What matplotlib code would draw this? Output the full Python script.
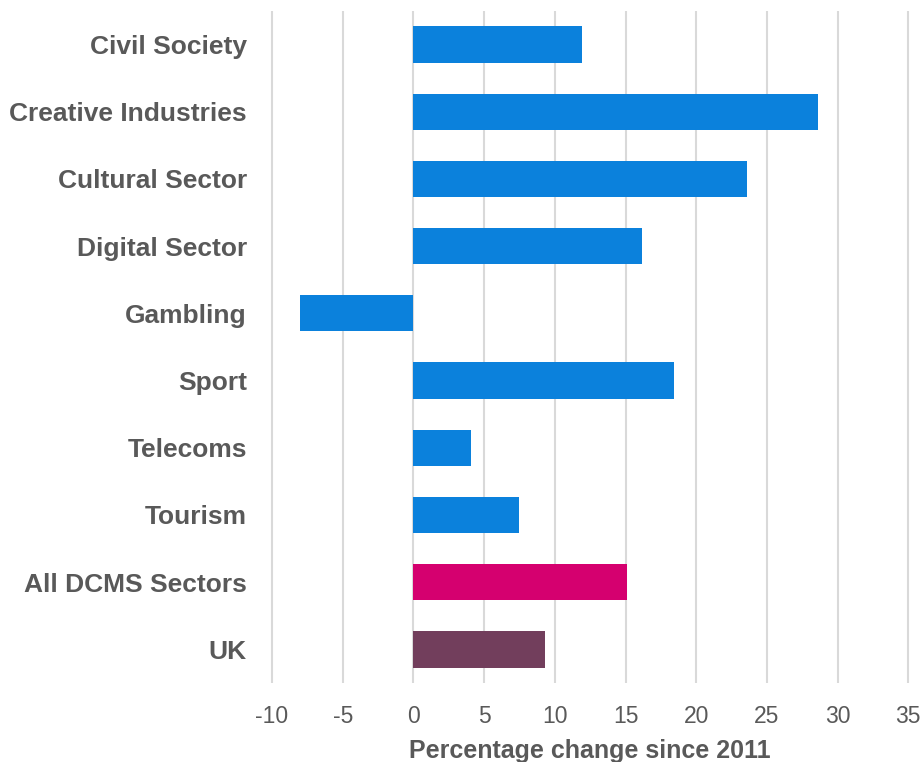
import matplotlib
matplotlib.use("Agg")
from matplotlib import pyplot as plt

# data
categories = ["Civil Society", "Creative Industries", "Cultural Sector", "Digital Sector",
              "Gambling", "Sport", "Telecoms", "Tourism", "All DCMS Sectors", "UK"]
values = [11.9, 28.6, 23.6, 16.2, -8.0, 18.4, 4.1, 7.5, 15.1, 9.3]
colours = ["#0b81dc"] * 8 + ["#d5006f", "#723e5c"]
xticks = [-10, -5, 0, 5, 10, 15, 20, 25, 30, 35]

plt.rcParams['font.family'] = ['Liberation Sans', 'DejaVu Sans']
grey = "#595959"

fig = plt.figure(figsize=(9.23, 7.62), dpi=100)
ax = fig.add_axes([0.2794, 0.1037, 0.72, 0.882])

ypos = list(range(len(categories)))
ax.barh(ypos, values, height=0.54, color=colours, zorder=3)

ax.set_ylim(len(categories) - 0.5, -0.5)
ax.set_xlim(-11, 36)
ax.set_xticks(xticks)
ax.set_xticklabels([str(t) for t in xticks])
ax.set_yticks(ypos)
ax.set_yticklabels(categories, fontsize=19, fontweight='bold', color=grey)

ax.grid(axis='x', color='#d9d9d9', linewidth=1.5, zorder=0)
for s in ax.spines.values():
    s.set_visible(False)
ax.tick_params(axis='both', length=0)
ax.tick_params(axis='y', pad=8)
ax.tick_params(axis='x', labelsize=16.5, labelcolor=grey, pad=16)

ax.set_xlabel("Percentage change since 2011", fontsize=18, fontweight='bold',
              color=grey, labelpad=8)

fig.savefig("out.png", dpi=100)
